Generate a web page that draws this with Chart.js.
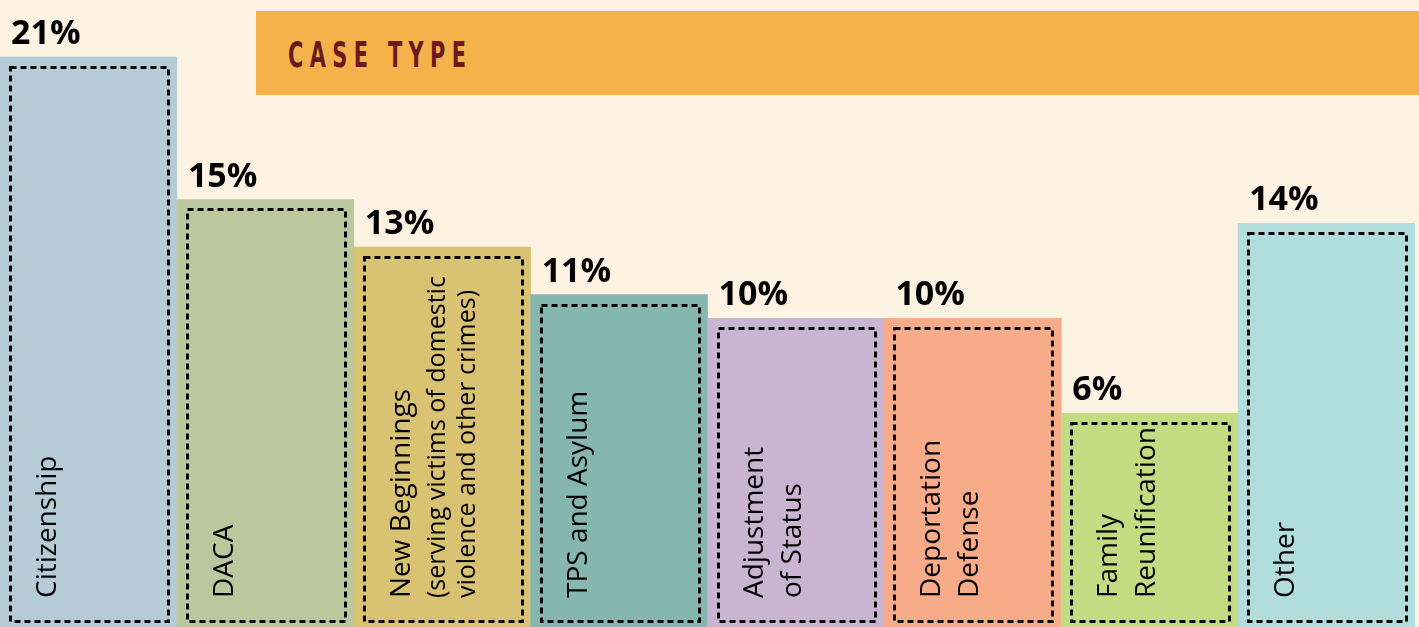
<!DOCTYPE html>
<html>
<head>
<meta charset="utf-8">
<script src="https://cdn.jsdelivr.net/npm/chart.js@4"></script>
<style>
  html, body { margin: 0; padding: 0; background: #FEF3E2; }
  #wrap { position: relative; width: 1419px; height: 627px; overflow: hidden; }
  #banner {
    position: absolute; left: 256px; top: 11px; width: 1163px; height: 84px;
    background: #F5B24A;
  }
  #banner span {
    position: absolute; left: 32px; top: 23px;
    font: 700 36px "DejaVu Sans", sans-serif; color: #6B1A1C;
    letter-spacing: 11px; white-space: pre;
    transform: scaleX(0.58); transform-origin: left center;
  }
</style>
</head>
<body>
<div id="wrap">
  <canvas id="chart"></canvas>
  <div id="banner"><span>CASE TYPE</span></div>
</div>
<script>
// data
const labelLines = [
  ["Citizenship"],
  ["DACA"],
  ["New Beginnings"],
  ["TPS and Asylum"],
  ["Adjustment", "of Status"],
  ["Deportation", "Defense"],
  ["Family", "Reunification"],
  ["Other"]
];
const noteLines = [[], [], ["(serving victims of domestic", "violence and other crimes)"], [], [], [], [], []];
const values = [21, 15, 13, 11, 10, 10, 6, 14];
const barColors = ["#B5CCD6", "#BBC79D", "#D9C272", "#85B7B0", "#C9B5D1", "#F7AB89", "#C3DC82", "#B1DEDD"];

// dashed frame, rotated labels and percent labels drawn on top of each bar
const barDecor = {
  id: "barDecor",
  afterDatasetsDraw(chart) {
    const ctx = chart.ctx;
    const area = chart.chartArea;
    const meta = chart.getDatasetMeta(0);
    meta.data.forEach((bar, i) => {
      const left = bar.x - bar.width / 2;
      const top = bar.y;
      const bottom = Math.round(area.bottom - 6);

      const fx = Math.round(left + 10);
      const fy = Math.round(top + 10);
      const fr = Math.round(left + bar.width - 9);
      ctx.save();
      ctx.setLineDash([6, 4]);
      ctx.lineWidth = 3;
      ctx.strokeStyle = "#000";
      ctx.strokeRect(fx + 0.5, fy + 0.5, fr - fx, bottom - fy);
      ctx.restore();

      // percent
      ctx.save();
      ctx.fillStyle = "#000";
      ctx.font = "bold 34px 'Open Sans'";
      ctx.textAlign = "left";
      ctx.textBaseline = "alphabetic";
      ctx.fillText(values[i] + "%", left + 11, top - 13);
      ctx.restore();

      // category label, reads bottom to top
      let x = left + 48;
      ctx.save();
      ctx.fillStyle = "#000";
      ctx.textAlign = "left";
      ctx.textBaseline = "middle";
      labelLines[i].forEach((line, j) => {
        if (j > 0) x += 38;
        ctx.save();
        ctx.translate(x, 598);
        ctx.rotate(-Math.PI / 2);
        ctx.font = "28px 'Open Sans'";
        ctx.fillText(line, 0, 0);
        ctx.restore();
      });
      noteLines[i].forEach((line, j) => {
        x += j === 0 ? 36 : 30;
        ctx.save();
        ctx.translate(x, 598);
        ctx.rotate(-Math.PI / 2);
        ctx.font = "25px 'Open Sans'";
        ctx.fillText(line, 0, 0);
        ctx.restore();
      });
      ctx.restore();
    });
  }
};

new Chart(document.getElementById("chart"), {
  type: "bar",
  data: {
    labels: labelLines,
    datasets: [{
      data: values,
      backgroundColor: barColors,
      borderWidth: 0,
      base: -3.5,
      categoryPercentage: 1,
      barPercentage: 1
    }]
  },
  options: {
    responsive: true,
    maintainAspectRatio: false,
    animation: false,
    layout: { padding: { left: 0, right: 4, top: 0, bottom: 0 } },
    plugins: { legend: { display: false }, tooltip: { enabled: false } },
    scales: {
      x: { display: false },
      y: { display: false, min: -3, max: 23.4 }
    }
  },
  plugins: [barDecor]
});
</script>
</body>
</html>
